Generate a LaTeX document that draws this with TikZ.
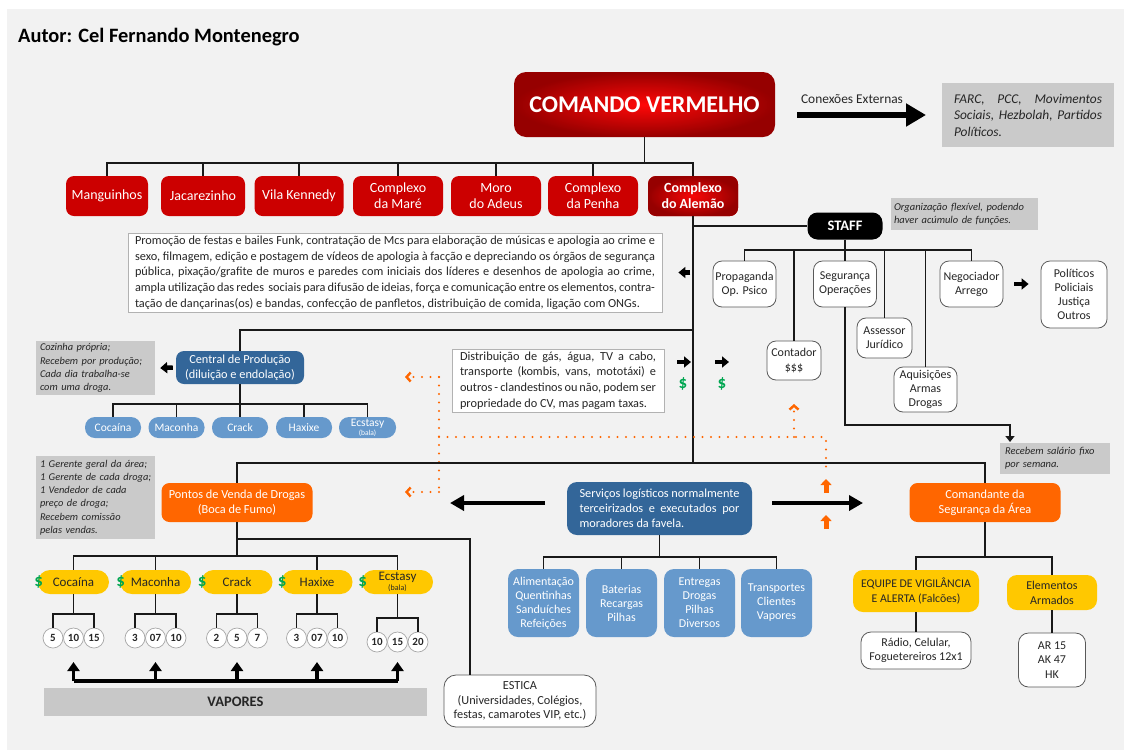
\documentclass[tikz,border=0pt]{standalone}
\usepackage{fontspec}
\setmainfont{Carlito}
\usetikzlibrary{arrows.meta}
\definecolor{bg}{HTML}{F2F2F2}
\definecolor{cvred}{HTML}{CC0000}
\definecolor{cvdark}{HTML}{960000}
\definecolor{cvbright}{HTML}{FF0808}
\definecolor{dblue}{HTML}{336699}
\definecolor{lblue}{HTML}{6699CC}
\definecolor{orng}{HTML}{FF6600}
\definecolor{yel}{HTML}{FFC800}
\definecolor{ngray}{HTML}{CACACA}
\definecolor{vgray}{HTML}{C8C8C8}
\definecolor{dgreen}{HTML}{00A651}
\definecolor{txt}{HTML}{262626}
\definecolor{bord}{HTML}{595959}
\begin{document}
\begin{tikzpicture}[x=1pt,y=-1pt,
 every node/.style={inner sep=0pt,align=center},
 tree/.style={draw=black!90,line width=1.8pt},
 redbox/.style={fill=cvred,rounded corners=8pt,text=white,font=\fontsize{14}{16}\selectfont,minimum height=40pt},
 wbox/.style={fill=white,draw=bord,line width=0.8pt,rounded corners=9pt,text=txt,font=\fontsize{12}{14.2}\selectfont},
 txtbox/.style={fill=white,draw=black!30,line width=0.8pt,text=txt,font=\fontsize{12.3}{15.7}\selectfont,align=justify},
 note/.style={fill=ngray,text=txt,font=\fontsize{10.4}{13.2}\selectfont\itshape,align=left},
 dbox/.style={fill=dblue,rounded corners=8pt,text=white,font=\fontsize{12.3}{15}\selectfont},
 lpill/.style={fill=lblue,rounded corners=10pt,text=white,font=\fontsize{11.5}{12}\selectfont,minimum height=21pt,minimum width=56pt},
 lbox/.style={fill=lblue,rounded corners=10pt,text=white,font=\fontsize{12}{14}\selectfont,minimum width=71pt,minimum height=68pt},
 ypill/.style={fill=yel,rounded corners=12pt,text=txt,font=\fontsize{13}{13}\selectfont,minimum width=71pt,minimum height=24pt},
 ybox/.style={fill=yel,rounded corners=10pt,text=txt,font=\fontsize{12}{15}\selectfont},
 obox/.style={fill=orng,rounded corners=8pt,text=white,font=\fontsize{12.3}{15}\selectfont,minimum width=151pt,minimum height=39pt},
 circ/.style={circle,fill=white,draw=black!35,line width=0.7pt,minimum size=20pt,font=\fontsize{11}{11}\selectfont\bfseries,text=txt},
 dollar/.style={text=dgreen,font=\fontsize{17}{17}\selectfont\bfseries},
 smallarrow/.style={draw=black,line width=4.5pt,-{Triangle[length=7pt,width=11pt]}},
 medarrow/.style={draw=black,line width=4pt,-{Triangle[length=14pt,width=15pt]}},
 bigarrow/.style={draw=black,line width=5.5pt,-{Triangle[length=20pt,width=22pt]}},
 vaparrow/.style={draw=black,line width=3.5pt,-{Triangle[length=9pt,width=12pt]}},
 oarrow/.style={draw=orng,line width=5pt,-{Triangle[length=6pt,width=11pt]}},
 odot/.style={draw=orng,line width=2.4pt,dash pattern=on 0pt off 8.5pt,line cap=round},
 otip/.style={-{Straight Barb[length=4pt,width=9pt]}}
]
\useasboundingbox (0,0) rectangle (1131,753);
\fill[white] (0,0) rectangle (1131,753);
\fill[bg] (7,9) rectangle (1124,750);

% title
\node[anchor=west,font=\fontsize{20.4}{22}\selectfont\bfseries,text=black] (title) at (18,37) {Autor: Cel Fernando Montenegro};

% top
\node[rounded corners=12pt,inner color=cvbright,outer color=cvdark,minimum width=261pt,minimum height=65pt,text=white,font=\fontsize{24}{26}\selectfont\bfseries] (cv) at (644.5,104.5) {COMANDO VERMELHO};
\node[font=\fontsize{13.4}{15}\selectfont,text=txt] (conx) at (852,99) {Conexões Externas};
\coordinate (cx1) at (797,115);
\coordinate (cx2) at (926,115);
\draw[bigarrow] (cx1) -- (cx2);
\node[note,font=\fontsize{13.4}{16.5}\selectfont\itshape,align=justify,text width=148pt,minimum width=172pt,minimum height=64pt] (farc) at (1028,115) {FARC, PCC, Movimentos\linebreak Sociais, Hezbolah, Partidos\linebreak Políticos.};

% red boxes
\node[redbox,minimum width=82pt] (mang) at (107,196) {Manguinhos};
\node[redbox,minimum width=84pt] (jac) at (203,196) {Jacarezinho};
\node[redbox,minimum width=89pt] (vila) at (299,196) {Vila Kennedy};
\node[redbox,minimum width=90pt] (mare) at (398,196) {Complexo\\da Maré};
\node[redbox,minimum width=90pt] (adeus) at (496,196) {Moro\\do Adeus};
\node[redbox,minimum width=90pt] (penha) at (593,196) {Complexo\\da Penha};
\node[redbox,minimum width=90pt,inner color=cvbright!85!cvred,outer color=cvdark,font=\fontsize{14}{16}\selectfont\bfseries] (alem) at (693,196) {Complexo\\do Alemão};

\coordinate (b1) at (0,163);
\draw[tree] (cv.south) -- (cv.south |- b1);
\draw[tree] (mang.north) |- (alem.north |- b1) -- (alem.north);
\foreach \n in {jac,vila,mare,adeus,penha} \draw[tree] (\n.north) -- (\n.north |- b1);

% staff
\node[fill=black,rounded corners=10pt,minimum width=75pt,minimum height=27pt,text=white,font=\fontsize{14.5}{16}\selectfont\bfseries] (staff) at (845,226) {STAFF};
\node[note,font=\fontsize{10.5}{13}\selectfont\itshape,text width=141pt,inner xsep=3pt,minimum height=32pt] (orgnote) at (964.5,214) {Organização flexível, podendo\\haver acúmulo de funções.};

\node[wbox,minimum width=63pt,minimum height=46pt] (prop) at (744.5,284) {Propaganda\\Op. Psico};
\node[wbox,minimum width=54pt,minimum height=39pt] (cont) at (794,360.5) {Contador\\\$\$\$};
\node[wbox,minimum width=63pt,minimum height=46pt] (seg) at (845,284) {Segurança\\Operações};
\node[wbox,minimum width=55pt,minimum height=40pt] (ass) at (884.5,338) {Assessor\\Jurídico};
\node[wbox,minimum width=63pt,minimum height=45pt] (aq) at (925.5,389.5) {Aquisições\\Armas\\Drogas};
\node[wbox,minimum width=63pt,minimum height=46pt] (neg) at (971.5,284) {Negociador\\Arrego};
\node[wbox,minimum width=66pt,minimum height=67pt] (pol) at (1074,294.5) {Políticos\\Policiais\\Justiça\\Outros};

\coordinate (sb) at (0,250);
\draw[tree] (alem.south |- staff.west) -- (staff.west);
\draw[tree] (staff.south) -- (staff.south |- sb);
\draw[tree] (prop.north) |- (neg.north |- sb) -- (neg.north);
\foreach \n in {cont,seg,ass,aq} \draw[tree] (\n.north) -- (\n.north |- sb);
\draw[smallarrow] ([xshift=11pt]neg.east) -- ([xshift=-12pt]pol.west |- neg.east);

\node[note,font=\fontsize{10.5}{13}\selectfont\itshape,text width=100pt,inner xsep=5pt,minimum height=31pt] (receb) at (1055,458.5) {Recebem salário fixo\\por semana.};
\coordinate (segarrow) at (1010,442);
\draw[tree,-{Triangle[length=6pt,width=9pt]}] (seg.south) -- (seg.south |- 0,425) -| (segarrow);

% promo
\node[txtbox,text width=520pt,minimum width=534pt,minimum height=79pt] (promo) at (395,272.5) {Promoção de festas e bailes Funk, contratação de Mcs para elaboração de músicas e apologia ao crime e\linebreak sexo, filmagem, edição e postagem de vídeos de apologia à facção e depreciando os órgãos de segurança\linebreak pública, pixação/grafite de muros e paredes com iniciais dos líderes e desenhos de apologia ao crime,\linebreak ampla utilização das redes\ \ sociais para difusão de ideias, força e comunicação entre os elementos, contra-\linebreak tação de dançarinas(os) e bandas, confecção de panfletos, distribuição de comida, ligação com ONGs.};
\draw[smallarrow] ([xshift=28pt]promo.east) -- ([xshift=16pt]promo.east);

% trunk
\coordinate (mb) at (0,463);
\draw[tree] (alem.south) -- (alem.south |- mb);

% central
\node[dbox,minimum width=128pt,minimum height=33pt] (central) at (240,367.5) {Central de Produção\\(diluição e endolação)};
\node[note,text width=119pt,inner xsep=0pt,minimum height=54pt] (note1) at (95.5,368) {\hspace*{4pt}Cozinha própria;\\\hspace*{4pt}Recebem por produção;\\\hspace*{4pt}Cada dia trabalha-se\\\hspace*{4pt}com uma droga.};
\draw[smallarrow] ([xshift=-3pt]central.west) -- ([xshift=5pt]note1.east);
\coordinate (cb) at (0,330);
\draw[tree] (central.north) -- (central.north |- cb) -- (alem.south |- cb);

\node[lpill] (bcoca) at (113,427.5) {Cocaína};
\node[lpill] (bmac) at (176.5,427.5) {Maconha};
\node[lpill] (bcrack) at (240,427.5) {Crack};
\node[lpill] (bhax) at (304,427.5) {Haxixe};
\node[lpill,minimum width=57pt] (becs) at (367.5,427.5) {Ecstasy\\[-3pt]{\fontsize{7.5}{8}\selectfont(bala)}};
\coordinate (db) at (0,404);
\draw[tree] (central.south) -- (central.south |- db);
\draw[tree] (bcoca.north) |- (becs.north |- db) -- (becs.north);
\foreach \n in {bmac,bhax} \draw[tree] (\n.north) -- (\n.north |- db);
\draw[tree] (bcrack.north) -- (bcrack.north |- db);

% distribution
\node[txtbox,text width=196pt,minimum width=212pt,minimum height=63pt] (dist) at (558,380.5) {Distribuição de gás, água, TV a cabo,\linebreak transporte (kombis, vans, mototáxi) e\linebreak outros - clandestinos ou não, podem ser\linebreak propriedade do CV, mas pagam taxas.};
\coordinate (da1) at (677,362);
\coordinate (da2) at (691,362);
\coordinate (da3) at (715,362);
\coordinate (da4) at (729,362);
\draw[smallarrow] (da1) -- (da2);
\draw[smallarrow] (da3) -- (da4);
\node[dollar] (dl1) at (683,384) {\$};
\node[dollar] (dl2) at (722,384) {\$};

% orange dotted
\coordinate (o1) at (439,377);
\coordinate (o1t) at (405,377);
\coordinate (o2) at (439,492);
\coordinate (o2t) at (405,492);
\coordinate (o3) at (439,437);
\coordinate (o4) at (826,437);
\coordinate (o5) at (826,470);
\coordinate (o6) at (794,437);
\coordinate (o6t) at (794,404);
\draw[odot] (o1) -- (o2);
\draw[odot,otip] (o1) -- (o1t);
\draw[odot,otip] (o2) -- (o2t);
\draw[odot] (o3) -- (o4) -- (o5);
\draw[odot,otip] (o6) -- (o6t);
\coordinate (ou1a) at (826,493);
\coordinate (ou1b) at (826,479);
\coordinate (ou2a) at (826,529);
\coordinate (ou2b) at (826,515);
\draw[oarrow] (ou1a) -- (ou1b);
\draw[oarrow] (ou2a) -- (ou2b);

% pontos de venda
\node[obox] (pontos) at (237,502.5) {Pontos de Venda de Drogas\\(Boca de Fumo)};
\node[note,text width=119pt,inner xsep=0pt,minimum height=83pt] (note2) at (95.5,497.5) {\hspace*{4pt}1 Gerente geral da área;\\\hspace*{4pt}1 Gerente de cada droga;\\\hspace*{4pt}1 Vendedor de cada\\\hspace*{4pt}preço de droga;\\\hspace*{4pt}Recebem comissão\\\hspace*{4pt}pelas vendas.};

% comandante
\node[obox] (cmd) at (985,502.5) {Comandante da\\Segurança da Área};
\draw[tree] (pontos.north) |- (cmd.north |- mb) -- (cmd.north);

% servicos
\node[dbox,rounded corners=10pt,minimum width=185pt,minimum height=53pt,align=justify,text width=160pt] (serv) at (659.5,508.5) {Serviços logísticos normalmente\linebreak terceirizados e executados por\linebreak moradores da favela.};
\coordinate (sl1) at (545,503);
\coordinate (sl2) at (450,503);
\coordinate (sr1) at (772,503);
\coordinate (sr2) at (863,503);
\draw[medarrow] (sl1) -- (sl2);
\draw[medarrow] (sr1) -- (sr2);

\node[lbox] (alim) at (543.5,603) {Alimentação\\Quentinhas\\Sanduíches\\Refeições};
\node[lbox] (bat) at (621.5,603) {Baterias\\Recargas\\Pilhas};
\node[lbox] (ent) at (699.5,603) {Entregas\\Drogas\\Pilhas\\Diversos};
\node[lbox] (trans) at (776.5,603) {Transportes\\Clientes\\Vapores};
\coordinate (svb) at (0,557);
\draw[tree] (serv.south) -- (serv.south |- svb);
\draw[tree] (alim.north) |- (trans.north |- svb) -- (trans.north);
\foreach \n in {bat,ent} \draw[tree] (\n.north) -- (\n.north |- svb);

% comandante subtree
\node[ybox,minimum width=126pt,minimum height=42pt,font=\fontsize{11.8}{15}\selectfont] (equipe) at (916,591) {EQUIPE DE VIGILÂNCIA\\E ALERTA (Falcões)};
\node[ybox,minimum width=90pt,minimum height=35pt] (elem) at (1052,592.5) {Elementos\\Armados};
\node[wbox,rounded corners=10pt,minimum width=110pt,minimum height=37pt] (radio) at (916,650.5) {Rádio, Celular,\\Foguetereiros 12x1};
\node[wbox,rounded corners=10pt,minimum width=67pt,minimum height=54pt] (ar) at (1052,660) {AR 15\\AK 47\\HK};
\draw[tree] (cmd.south) -- (cmd.south |- svb);
\draw[tree] (equipe.north) |- (elem.north |- svb) -- (elem.north);
\draw[tree] (equipe.south) -- (radio.north);
\draw[tree] (elem.south) -- (ar.north);

% yellow pills
\node[ypill] (ycoca) at (73.5,582) {Cocaína};
\node[ypill] (ymac) at (155.5,582) {Maconha};
\node[ypill] (ycrack) at (237,582) {Crack};
\node[ypill] (yhax) at (317,582) {Haxixe};
\node[ypill] (yecs) at (397.5,582) {Ecstasy\\[-3pt]{\fontsize{8}{8}\selectfont(bala)}};
\foreach \n/\i in {ycoca/1,ymac/2,ycrack/3,yhax/4,yecs/5} \node[dollar] (ds\i) at ([xshift=1pt]\n.west) {\$};

\coordinate (yb) at (0,556);
\draw[tree] (pontos.south) -- (pontos.south |- yb);
\draw[tree] (ycoca.north) |- (yecs.north |- yb) -- (yecs.north);
\foreach \n in {ymac,yhax} \draw[tree] (\n.north) -- (\n.north |- yb);

% estica
\node[wbox,rounded corners=12pt,minimum width=152pt,minimum height=52pt,font=\fontsize{12.3}{14.5}\selectfont] (estica) at (520,701) {ESTICA\\(Universidades, Colégios,\\festas, camarotes VIP, etc.)};
\draw[tree] (pontos.south |- 0,539) -| ([xshift=-50pt]estica.north);

% circles
\foreach \p/\i/\a/\b/\c/\yy/\by in {ycoca/1/5/10/15/638/614,ymac/2/3/07/10/638/614,ycrack/3/2/5/7/638/614,yhax/4/3/07/10/638/614,yecs/5/10/15/20/642/618}{
  \node[circ] (c\i a) at ([xshift=-20.5pt]\p.center |- 0,\yy) {\a};
  \node[circ] (c\i b) at (\p.center |- 0,\yy) {\b};
  \node[circ] (c\i c) at ([xshift=20.5pt]\p.center |- 0,\yy) {\c};
  \draw[tree] (\p.south) -- (\p.south |- 0,\by);
  \draw[tree] (c\i a.north) |- (c\i c.north |- 0,\by) -- (c\i c.north);
}

% vapores
\node[fill=vgray,minimum width=383pt,minimum height=28pt,font=\fontsize{14.5}{16}\selectfont\bfseries,text=txt] (vap) at (235.5,702) {VAPORES};
\coordinate (vb) at (0,681);
\draw[draw=black,line width=3.5pt] (ycoca.center |- vb) -- (yecs.center |- vb);
\foreach \n in {ycoca,ymac,ycrack,yhax,yecs} \draw[vaparrow] (\n.center |- vb) -- (\n.center |- 0,662);
\end{tikzpicture}
\end{document}
